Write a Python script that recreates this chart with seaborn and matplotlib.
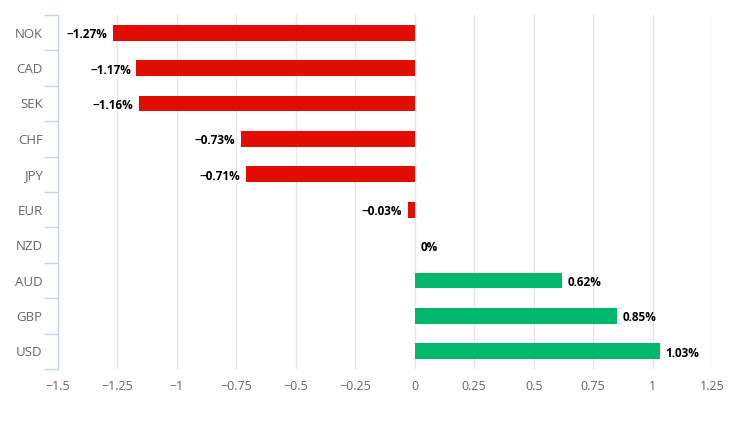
import numpy as np
import pandas as pd
import seaborn as sns
import matplotlib.pyplot as plt
from matplotlib.ticker import FixedLocator, FuncFormatter

# Currency performance data
currencies = ['NOK', 'CAD', 'SEK', 'CHF', 'JPY', 'EUR', 'NZD', 'AUD', 'GBP', 'USD']
changes = [-1.27, -1.17, -1.16, -0.73, -0.71, -0.03, 0.0, 0.62, 0.85, 1.03]
x_ticks = [-1.5, -1.25, -1, -0.75, -0.5, -0.25, 0, 0.25, 0.5, 0.75, 1, 1.25]

RED = '#e00d00'
GREEN = '#00b86b'
AXIS = '#ccd6eb'


def fmt_num(v):
    # Highcharts-like number formatting with unicode minus
    s = f'{v:g}'
    return s.replace('-', '\u2212')


df = pd.DataFrame({'currency': currencies, 'change': changes})
df['colour'] = [RED if v < 0 else GREEN for v in df['change']]

sns.set_style('white')
plt.rcParams['font.family'] = ['Open Sans', 'DejaVu Sans']

fig = plt.figure(figsize=(7.36, 4.32), dpi=100)
ax = fig.add_axes([58 / 736, 1 - 369 / 432, (712 - 58) / 736, (369 - 15) / 432])

sns.barplot(data=df, y='currency', x='change', hue='currency',
            palette=dict(zip(df['currency'], df['colour'])),
            legend=False, width=0.45, ax=ax, orient='h', saturation=1,
            linewidth=0)

ax.set_xlim(-1.5, 1.25)
ax.set_ylim(len(currencies) - 0.5, -0.5)

# gridlines
ax.xaxis.set_major_locator(FixedLocator(x_ticks))
ax.xaxis.set_major_formatter(FuncFormatter(lambda v, p: fmt_num(v)))
ax.grid(axis='x', color='#e6e6e6', linewidth=1)
ax.set_axisbelow(True)

for side in ['top', 'right', 'bottom']:
    ax.spines[side].set_visible(False)
ax.spines['left'].set_color(AXIS)
ax.spines['left'].set_linewidth(1)

ax.tick_params(axis='x', length=0, labelsize=9, labelcolor='#666666', pad=8)
ax.tick_params(axis='y', which='major', left=False, length=0, labelsize=9.5,
               labelcolor='#666666', pad=11)
ax.yaxis.set_minor_locator(FixedLocator(np.arange(-0.5, len(currencies), 1)))
ax.tick_params(axis='y', which='minor', left=True, length=10, color=AXIS, width=1)

ax.set_xlabel('')
ax.set_ylabel('')

# value labels
for i, v in enumerate(changes):
    label = fmt_num(v) + '%'
    if v < 0:
        ax.annotate(label, (v, i), xytext=(-4, -1.5), textcoords='offset points',
                    ha='right', va='center', fontsize=8.5, fontweight='bold', color='black')
    else:
        ax.annotate(label, (v, i), xytext=(4, -1.5), textcoords='offset points',
                    ha='left', va='center', fontsize=8.5, fontweight='bold', color='black')

fig.savefig('out.png', dpi=100)
